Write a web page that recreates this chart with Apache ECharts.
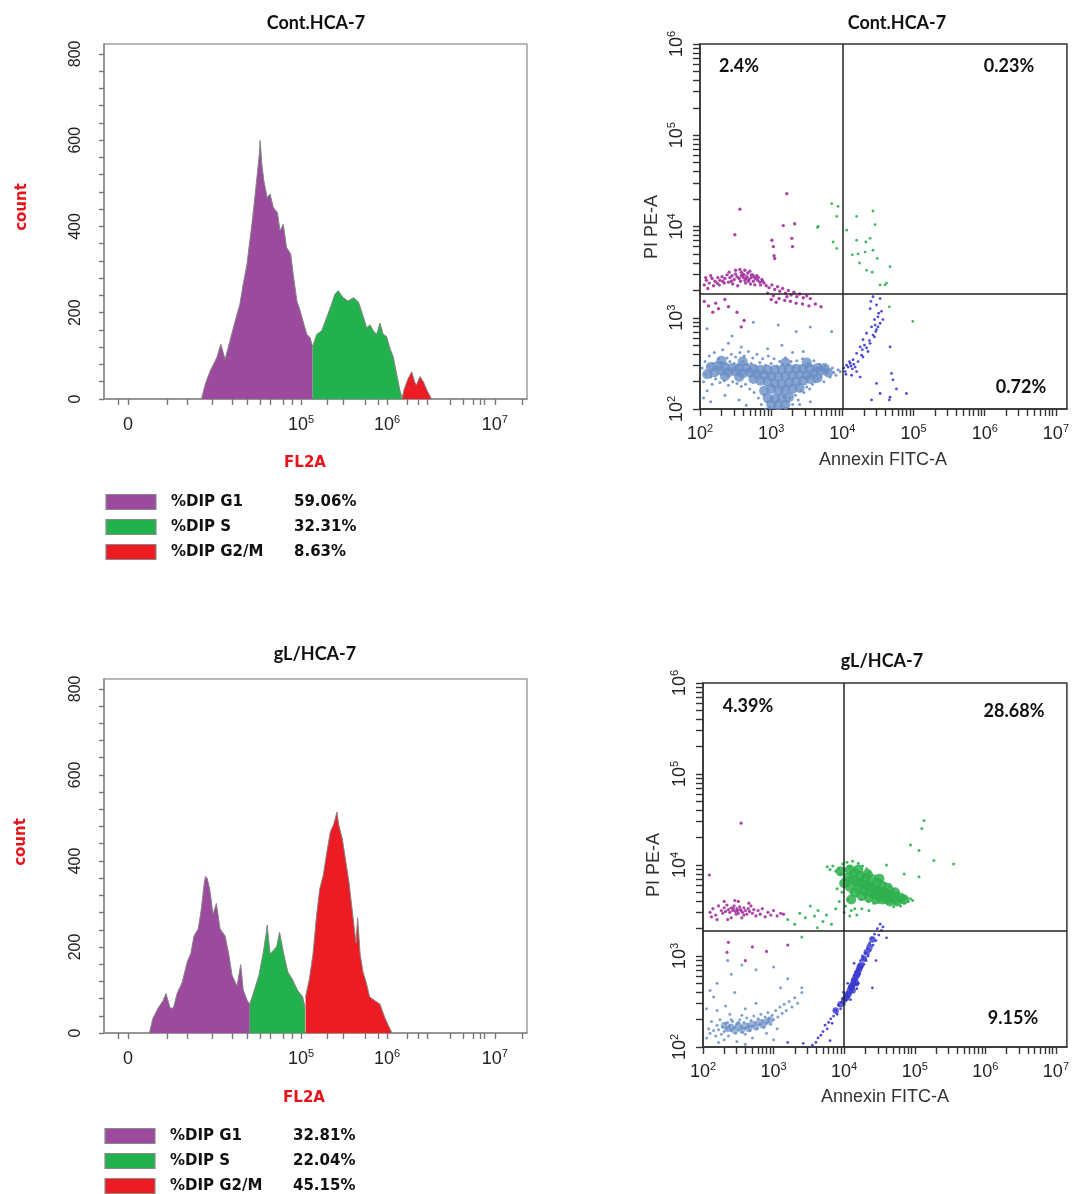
<!DOCTYPE html>
<html><head><meta charset="utf-8">
<script src="https://cdn.jsdelivr.net/npm/echarts@6/dist/echarts.min.js"></script>
<style>html,body{margin:0;padding:0;background:#fff}#chart{width:1072px;height:1194px}</style>
</head><body><div id="chart"></div>
<script>
// ---------------- DATA ----------------
const panelTitles = ['Cont.HCA-7', 'gL/HCA-7'];
const phaseNames = ['%DIP G1', '%DIP S', '%DIP G2/M'];
const contPhasePct = ['59.06%', '32.31%', '8.63%'];
const glPhasePct = ['32.81%', '22.04%', '45.15%'];

// histogram x axis (instrument channels 0..1024) and tick labels
const histTickChannels = [58, 477, 685, 946];
const histTickLabels = ['0', '10^5', '10^6', '10^7'];
const histMinorChannels = [34, 152, 201, 261, 310, 346, 378, 402, 433, 455, 540, 579, 632, 663, 734, 760, 782, 838, 869, 893, 910, 920, 1012];
const countTicks = [0, 200, 400, 600, 800];
const countMinor = [40, 80, 120, 160, 240, 280, 320, 360, 440, 480, 520, 560, 640, 680, 720, 760];

// Cont.HCA-7 DNA histogram [channel, count]
const contG1 = [[236,0],[245,34],[257,65],[273,96],[283,127],[293,92],[305,135],[317,179],[329,220],[337,266],[346,312],[353,367],[360,421],[366,475],[371,521],[376,568],[378,599],[382,545],[387,506],[395,467],[402,475],[410,444],[420,432],[426,390],[434,405],[442,351],[452,336],[458,289],[467,227],[475,204],[484,173],[491,150],[499,142],[505,121]];
const contS = [[505,121],[507,127],[515,150],[527,158],[539,189],[551,220],[559,243],[567,251],[579,235],[591,227],[604,235],[616,225],[626,196],[636,165],[644,172],[652,158],[660,150],[668,176],[676,150],[684,145],[692,118],[700,98],[708,60],[716,21],[721,5]];
const contG2M = [[722,3],[726,20],[735,45],[745,63],[752,40],[756,32],[765,52],[773,40],[782,20],[793,0]];

// gL/HCA-7 DNA histogram [channel, count]
const glG1 = [[110,0],[118,33],[131,58],[143,75],[150,92],[160,58],[168,58],[177,92],[189,117],[202,167],[210,184],[218,226],[228,242],[235,284],[243,351],[246,364],[250,359],[256,334],[264,276],[272,301],[281,242],[293,226],[302,184],[310,134],[322,109],[331,159],[337,100],[347,75],[353,67]];
const glS = [[353,67],[364,100],[375,134],[385,184],[393,234],[395,251],[402,184],[410,192],[418,201],[425,234],[435,184],[445,142],[456,125],[468,100],[481,84],[487,58]];
const glG2M = [[488,84],[497,125],[506,184],[514,268],[522,334],[531,368],[539,418],[548,468],[556,485],[564,514],[568,485],[577,451],[585,401],[593,351],[602,276],[610,209],[614,268],[620,184],[627,142],[635,117],[643,84],[656,75],[668,67],[681,33],[697,0]];

// Annexin/PI decade ticks (log10 units)
const decadeExps = [2, 3, 4, 5, 6, 7];
const decadeLabels = ['10^2', '10^3', '10^4', '10^5', '10^6', '10^7'];

// Cont.HCA-7 scatter [log10 Annexin, log10 PI]
const contViableCore = [[2.20,2.40],[2.30,2.42],[2.40,2.40],[2.50,2.41],[2.60,2.39],[2.70,2.40],[2.80,2.38],[2.90,2.37],[3.00,2.36],[3.10,2.35],[3.20,2.36],[3.30,2.37],[3.40,2.38],[3.50,2.37],[3.60,2.39],[2.95,2.30],[3.05,2.28],[3.15,2.27],[3.25,2.29],[3.35,2.30],[3.45,2.31],[3.55,2.33],[3.10,2.20],[3.20,2.21],[3.30,2.22],[3.00,2.22],[2.35,2.36],[2.55,2.35],[2.75,2.33],[3.70,2.42],[3.15,2.43],[3.35,2.44],[2.65,2.45],[2.45,2.45],[2.15,2.46],[2.25,2.47],[2.35,2.46],[2.55,2.45],[2.75,2.44],[2.85,2.43],[2.95,2.43],[3.05,2.43],[3.25,2.44],[3.45,2.44],[3.55,2.44],[3.65,2.45],[3.75,2.45],[3.80,2.40],[2.10,2.38],[2.85,2.31],[3.65,2.34],[2.90,2.20],[3.40,2.23],[2.95,2.12],[3.05,2.11],[3.15,2.12],[3.25,2.13],[3.00,2.05],[3.10,2.04],[3.20,2.05],[2.30,2.53],[2.60,2.52],[3.20,2.51],[3.50,2.51]];
const contViable = [[2.03,2.45],[2.05,2.30],[2.07,2.52],[2.08,2.38],[2.10,2.20],[2.12,2.47],[2.13,2.58],[2.15,2.35],[2.17,2.27],[2.18,2.50],[2.20,2.62],[2.22,2.33],[2.24,2.46],[2.26,2.55],[2.28,2.29],[2.30,2.51],[2.32,2.65],[2.34,2.31],[2.36,2.49],[2.38,2.56],[2.40,2.26],[2.42,2.52],[2.44,2.60],[2.46,2.30],[2.48,2.50],[2.50,2.57],[2.52,2.28],[2.54,2.48],[2.56,2.62],[2.58,2.25],[2.60,2.52],[2.62,2.58],[2.64,2.27],[2.66,2.49],[2.68,2.63],[2.70,2.22],[2.72,2.50],[2.74,2.56],[2.76,2.18],[2.78,2.47],[2.80,2.60],[2.82,2.12],[2.84,2.51],[2.86,2.05],[2.88,2.55],[2.90,2.15],[2.92,2.48],[2.94,2.08],[2.96,2.58],[2.98,2.02],[3.00,2.50],[3.02,2.12],[3.04,2.55],[3.06,2.06],[3.08,2.47],[3.10,2.10],[3.12,2.52],[3.14,2.03],[3.16,2.49],[3.18,2.14],[3.20,2.56],[3.22,2.08],[3.24,2.48],[3.26,2.12],[3.28,2.52],[3.30,2.05],[3.32,2.46],[3.34,2.15],[3.36,2.53],[3.38,2.10],[3.40,2.47],[3.42,2.20],[3.44,2.55],[3.46,2.18],[3.48,2.45],[3.50,2.24],[3.52,2.50],[3.54,2.22],[3.56,2.47],[3.58,2.27],[3.60,2.53],[3.62,2.30],[3.64,2.45],[3.66,2.33],[3.68,2.49],[3.70,2.36],[3.72,2.44],[3.74,2.30],[3.76,2.47],[3.78,2.39],[3.80,2.42],[3.83,2.35],[3.86,2.45],[3.88,2.40],[3.91,2.37],[3.94,2.43],[3.97,2.41],[2.58,2.68],[2.95,2.66],[3.15,2.70],[3.30,2.62],[2.40,2.72],[3.45,2.63],[3.05,2.02],[2.92,2.00],[3.20,2.01],[2.05,2.12],[2.15,2.08],[2.35,2.15],[2.55,2.10],[2.65,2.04],[3.40,2.05],[3.55,2.08],[2.75,2.95],[3.10,2.92],[3.35,2.85],[3.55,2.90],[3.85,2.85],[2.10,2.88],[2.45,2.80]];
const contEarlyApop = [[4.43,3.23],[4.53,3.21],[4.48,3.14],[4.39,3.10],[4.55,3.07],[4.50,3.01],[4.45,2.98],[4.53,2.94],[4.41,2.90],[4.48,2.87],[4.34,2.83],[4.43,2.81],[4.29,2.76],[4.39,2.72],[4.25,2.68],[4.34,2.67],[4.20,2.61],[4.27,2.59],[4.15,2.54],[4.22,2.52],[4.11,2.50],[4.06,2.48],[4.18,2.46],[4.08,2.46],[4.14,2.44],[4.04,2.41],[4.20,2.41],[4.13,2.37],[4.25,2.35],[4.29,2.57],[4.36,2.63],[4.45,2.79],[4.50,2.90],[4.57,2.98],[4.67,2.68],[4.69,2.39],[4.71,2.32],[4.48,2.28],[4.53,2.17],[4.67,2.13],[4.76,2.22],[4.90,2.17],[4.41,2.10],[4.66,2.10],[4.02,2.45],[4.05,2.38],[4.10,2.52],[4.31,2.70],[4.38,2.75],[4.46,2.92],[4.51,3.05],[4.40,3.18],[4.47,2.85],[4.28,2.65],[4.16,2.49],[4.12,2.47]];
const contLateApop = [[3.66,4.00],[3.85,4.25],[3.94,4.22],[3.92,4.11],[3.87,3.83],[3.92,3.76],[3.65,3.99],[4.06,3.96],[4.20,4.11],[4.43,4.17],[4.46,4.02],[4.20,3.85],[4.33,3.83],[4.39,3.87],[4.14,3.69],[4.22,3.70],[4.32,3.72],[4.43,3.74],[4.49,3.65],[4.24,3.60],[4.34,3.52],[4.42,3.50],[4.67,3.56],[4.60,3.36],[4.53,3.36],[4.62,3.38],[4.66,3.12],[4.99,2.96]];
const contNecrotic = [[2.52,3.45],[2.55,3.43],[2.58,3.46],[2.61,3.44],[2.63,3.41],[2.66,3.45],[2.69,3.42],[2.72,3.44],[2.75,3.40],[2.78,3.43],[2.81,3.41],[2.84,3.39],[2.87,3.42],[2.60,3.48],[2.67,3.49],[2.74,3.47],[2.80,3.46],[2.57,3.40],[2.64,3.38],[2.71,3.37],[2.77,3.36],[2.85,3.36],[2.90,3.38],[2.48,3.42],[2.45,3.46],[2.42,3.44],[2.38,3.47],[2.35,3.43],[2.31,3.45],[2.28,3.41],[2.25,3.44],[2.21,3.40],[2.17,3.43],[2.13,3.38],[2.09,3.41],[2.06,3.36],[2.11,3.32],[2.19,3.35],[2.27,3.36],[2.34,3.38],[2.41,3.50],[2.50,3.52],[2.56,3.53],[2.63,3.52],[2.70,3.51],[2.46,3.37],[2.53,3.35],[2.93,3.35],[2.97,3.33],[3.01,3.36],[3.05,3.31],[3.09,3.34],[3.12,3.29],[3.16,3.32],[3.20,3.27],[3.24,3.30],[3.28,3.25],[3.32,3.28],[3.36,3.23],[3.40,3.26],[3.45,3.22],[3.50,3.24],[3.55,3.21],[3.03,3.24],[3.11,3.21],[3.19,3.19],[3.27,3.18],[3.35,3.16],[3.44,3.15],[3.53,3.13],[3.62,3.15],[3.70,3.12],[2.95,3.27],[3.07,3.17],[3.22,3.23],[3.00,3.20],[2.06,3.18],[2.12,3.13],[2.22,3.16],[2.26,3.10],[2.40,3.12],[2.52,3.06],[2.35,3.20],[2.18,3.06],[2.62,2.97],[2.58,2.90],[2.49,3.91],[2.56,4.19],[3.17,4.01],[3.22,4.36],[3.33,4.03],[3.01,3.85],[3.03,3.78],[3.05,3.65],[3.29,3.87],[3.30,3.78],[3.04,3.68],[2.44,3.40],[2.50,3.48],[2.62,3.47],[2.68,3.40],[2.76,3.45],[2.82,3.44],[2.88,3.40],[2.58,3.50],[2.65,3.43],[2.72,3.47],[2.40,3.39],[2.32,3.40],[2.24,3.38],[2.15,3.46],[2.08,3.44]];
const contGate = [4.0, 3.26];
const contQuadPct = ['2.4%', '0.23%', '0.72%'];

// gL/HCA-7 scatter [log10 Annexin, log10 PI]
const glViable = [[2.05,2.10],[2.08,2.20],[2.10,2.15],[2.12,2.28],[2.15,2.18],[2.18,2.12],[2.20,2.24],[2.22,2.19],[2.24,2.30],[2.26,2.14],[2.28,2.22],[2.30,2.17],[2.32,2.26],[2.34,2.20],[2.36,2.12],[2.38,2.24],[2.40,2.18],[2.42,2.28],[2.44,2.21],[2.46,2.15],[2.48,2.25],[2.50,2.19],[2.52,2.30],[2.54,2.23],[2.56,2.16],[2.58,2.27],[2.60,2.21],[2.62,2.32],[2.64,2.25],[2.66,2.18],[2.68,2.29],[2.70,2.23],[2.72,2.34],[2.74,2.27],[2.76,2.20],[2.78,2.31],[2.80,2.25],[2.82,2.36],[2.84,2.29],[2.86,2.22],[2.88,2.33],[2.90,2.27],[2.92,2.38],[2.94,2.31],[2.96,2.25],[2.98,2.35],[3.00,2.30],[3.03,2.40],[3.06,2.33],[3.09,2.44],[3.12,2.37],[3.15,2.47],[3.18,2.40],[3.22,2.50],[3.26,2.44],[3.30,2.54],[3.34,2.48],[2.40,2.30],[2.50,2.27],[2.60,2.14],[2.45,2.22],[2.55,2.20],[2.35,2.27],[2.65,2.22],[2.30,2.08],[2.48,2.06],[2.70,2.10],[2.90,2.15],[3.05,2.20],[2.20,2.40],[2.32,2.45],[2.60,2.42],[2.15,2.55],[2.45,2.60],[2.75,2.48],[3.10,2.65],[3.40,2.60],[2.55,2.35],[2.38,2.36],[2.05,2.42],[2.10,2.62],[2.22,2.05],[2.60,2.03],[3.00,2.08],[2.35,2.95],[2.55,2.90],[2.75,2.85],[3.00,2.88],[3.20,2.75],[3.40,2.65],[2.20,2.70],[2.40,2.80]];
const glViableCore = [[2.40,2.22],[2.50,2.24],[2.60,2.23],[2.70,2.25],[2.80,2.27],[2.45,2.18],[2.55,2.19],[2.65,2.20],[2.35,2.20],[2.75,2.22],[2.90,2.28],[2.30,2.24],[2.85,2.24],[2.95,2.30]];
const glEarlyApop = [[3.70,2.17],[3.73,2.24],[3.76,2.20],[3.78,2.27],[3.81,2.31],[3.83,2.26],[3.85,2.34],[3.88,2.40],[3.90,2.36],[3.92,2.46],[3.95,2.42],[3.96,2.49],[3.98,2.53],[4.00,2.47],[4.01,2.57],[4.03,2.52],[4.04,2.60],[4.06,2.55],[4.07,2.66],[4.09,2.59],[4.10,2.68],[4.11,2.62],[4.12,2.74],[4.13,2.66],[4.14,2.79],[4.15,2.71],[4.16,2.82],[4.17,2.74],[4.18,2.69],[4.19,2.85],[4.20,2.78],[4.21,2.90],[4.22,2.80],[4.23,2.95],[4.24,2.86],[4.25,2.88],[4.27,2.97],[4.28,2.91],[4.30,3.03],[4.31,2.95],[4.33,3.08],[4.34,3.00],[4.36,3.14],[4.37,3.06],[4.39,3.20],[4.41,3.12],[4.43,3.24],[4.45,3.17],[4.47,3.30],[4.49,3.23],[4.51,3.35],[4.53,3.28],[4.55,3.32],[4.14,2.92],[4.05,2.70],[4.26,3.00],[3.99,2.60],[4.20,2.70],[4.09,2.52],[4.18,2.64],[3.63,2.10],[3.60,2.05],[3.67,2.13],[3.55,2.02],[3.42,2.04],[3.20,2.05],[3.80,2.07],[4.40,2.65],[4.45,2.95],[4.60,3.20]];
const glEarlyCore = [[3.88,2.40],[3.95,2.47],[4.00,2.52],[4.04,2.56],[4.06,2.58],[4.08,2.62],[4.10,2.65],[4.11,2.67],[4.13,2.70],[4.14,2.73],[4.16,2.76],[4.18,2.79],[4.19,2.82],[4.21,2.85],[4.22,2.88],[4.24,2.90],[4.28,2.97],[4.32,3.04],[4.36,3.10],[4.40,3.18],[4.12,2.62],[4.17,2.70],[4.03,2.54]];
const glLateCore = [[4.05,3.86],[4.12,3.84],[4.18,3.82],[4.24,3.80],[4.30,3.78],[4.36,3.76],[4.42,3.74],[4.48,3.72],[4.54,3.70],[4.60,3.69],[4.66,3.67],[4.72,3.65],[4.20,3.74],[4.28,3.72],[4.36,3.70],[4.44,3.68],[4.52,3.66],[4.60,3.63],[4.14,3.91],[4.22,3.88],[4.30,3.86],[4.38,3.83],[4.46,3.80],[4.54,3.77],[3.95,3.93],[4.00,3.80],[4.08,3.76],[4.15,3.70],[4.25,3.66],[4.35,3.64],[4.45,3.62],[4.55,3.62],[4.65,3.60],[4.75,3.60],[4.80,3.64],[4.85,3.62],[4.08,3.95],[4.20,3.95],[4.33,3.90],[4.50,3.85],[4.62,3.75],[4.72,3.70],[4.10,3.62]];
const glLateApop = [[3.76,3.98],[3.80,3.95],[3.84,3.99],[3.88,3.93],[3.92,3.96],[3.95,3.90],[3.98,4.01],[4.00,3.95],[4.02,3.85],[4.04,4.03],[4.06,3.78],[4.08,3.98],[4.10,3.70],[4.12,4.04],[4.14,3.79],[4.16,3.96],[4.18,3.66],[4.20,4.02],[4.22,3.92],[4.24,3.62],[4.26,3.99],[4.28,3.90],[4.30,3.66],[4.32,3.96],[4.34,3.60],[4.36,3.92],[4.38,3.65],[4.40,3.89],[4.42,3.58],[4.44,3.88],[4.46,3.62],[4.48,3.85],[4.50,3.59],[4.52,3.83],[4.55,3.63],[4.58,3.80],[4.61,3.58],[4.64,3.76],[4.67,3.60],[4.70,3.73],[4.73,3.58],[4.76,3.70],[4.79,3.60],[4.82,3.66],[4.85,3.58],[4.88,3.64],[4.91,3.60],[4.94,3.63],[4.97,3.61],[4.80,3.55],[4.70,3.54],[4.05,3.62],[4.02,3.55],[4.10,3.50],[4.08,3.44],[4.15,3.52],[4.00,3.48],[3.97,3.70],[3.90,3.74],[3.93,3.60],[4.25,3.52],[4.35,3.50],[4.18,3.45],[3.37,3.47],[3.45,3.42],[3.52,3.55],[3.58,3.44],[3.63,3.50],[3.70,3.38],[3.75,3.45],[3.82,3.35],[3.88,3.52],[3.40,3.21],[3.62,3.31],[4.94,4.22],[5.06,4.16],[5.13,4.49],[5.10,4.40],[5.55,4.01],[5.27,4.05],[5.06,3.87],[4.85,3.90],[4.60,4.00],[3.30,3.35],[3.20,3.40]];
const glNecrotic = [[2.10,3.48],[2.14,3.52],[2.18,3.45],[2.22,3.55],[2.26,3.50],[2.28,3.47],[2.30,3.53],[2.32,3.49],[2.34,3.56],[2.36,3.51],[2.38,3.48],[2.40,3.53],[2.42,3.50],[2.44,3.55],[2.46,3.49],[2.48,3.52],[2.50,3.47],[2.52,3.54],[2.54,3.50],[2.56,3.48],[2.58,3.53],[2.60,3.50],[2.62,3.46],[2.64,3.52],[2.66,3.49],[2.68,3.55],[2.70,3.47],[2.72,3.51],[2.75,3.44],[2.78,3.50],[2.81,3.46],[2.84,3.52],[2.88,3.43],[2.92,3.48],[2.96,3.45],[3.00,3.50],[3.05,3.44],[3.10,3.47],[3.14,3.46],[2.45,3.61],[2.50,3.60],[2.40,3.42],[2.55,3.42],[2.65,3.58],[2.20,3.40],[2.35,3.40],[2.12,3.43],[2.30,3.60],[2.58,3.45],[2.47,3.46],[2.53,3.51],[2.43,3.52],[2.49,3.50],[2.09,3.89],[2.54,4.46],[2.36,3.15],[2.34,3.04],[2.60,2.95],[2.70,3.10],[2.90,3.05],[3.20,3.12]];
const glGate = [4.0, 3.28];
const glQuadPct = ['4.39%', '28.68%', '9.15%'];

// ---------------- STYLE / LAYOUT ----------------
const AX_FONT = '"Liberation Sans", Arial, sans-serif';
const BOLD_FONT = 'Lato, "Open Sans", sans-serif';
const LEG_FONT = '"DejaVu Sans", Verdana, sans-serif';
const C_G1 = '#9b4a9e', C_S = '#22b14c', C_G2 = '#ed1c24';
const C_VIABLE = '#6a8fc6', C_EARLY = '#3a3ad0', C_LATE = '#2eb04e', C_NECRO = '#a2309c';
const RED = '#e8141c';

const grids = [
  {left: 104, top: 44, width: 423, height: 355, show: true, borderColor: '#a0a0a0', borderWidth: 1.5},
  {left: 700, top: 44, width: 367, height: 365, show: true, borderColor: '#333', borderWidth: 1.5},
  {left: 104, top: 679, width: 423, height: 354, show: true, borderColor: '#a0a0a0', borderWidth: 1.5},
  {left: 703, top: 683, width: 366, height: 364, show: true, borderColor: '#333', borderWidth: 1.5}
];

function fmtFrom(labels, ticks) {
  return function (v) {
    const i = ticks.findIndex(t => Math.abs(t - v) < 1e-6);
    if (i < 0) return '';
    const m = labels[i].match(/^([^\^]+)(?:\^(\d+))?$/);
    return '{b|' + m[1] + '}' + (m[2] ? '{s|' + m[2] + '}' : '');
  };
}
function rich(size, color) {
  return {
    b: {fontSize: size, fontFamily: AX_FONT, color: color, lineHeight: size + 4},
    s: {fontSize: Math.round(size * 0.62), fontFamily: AX_FONT, color: color, verticalAlign: 'top', lineHeight: Math.round(size * 0.62) + 1}
  };
}
function logMinor(lo, hi, max) {
  const out = [];
  for (let n = lo; n < hi; n++) for (let k = 2; k <= 9; k++) { const v = n + Math.log10(k); if (v <= max) out.push(v); }
  return out;
}
const byValue = (a, b) => a - b;

const xAxes = [], yAxes = [];
function addAxes(gi, kind) {
  const hist = kind === 'hist';
  const lineCol = hist ? '#8c8c8c' : '#333';
  const tickCol = hist ? '#777' : '#333';
  const xMin = hist ? 0 : 2, xMax = hist ? 1024 : 7.155;
  const yMin = hist ? 0 : 2, yMax = hist ? 823 : 6;
  const xMajor = hist ? histTickChannels : decadeExps;
  const xLab = hist ? histTickLabels : decadeLabels;
  const yMajor = hist ? countTicks : decadeExps.slice(0, 5);
  const yLab = hist ? countTicks.map(String) : decadeLabels.slice(0, 5);
  const xMinor = hist ? histMinorChannels : logMinor(2, 7, xMax);
  const yMinor = hist ? countMinor : logMinor(2, 6, 6);
  const xi = xAxes.length, yi = yAxes.length;
  xAxes.push({
    gridIndex: gi, type: 'value', position: 'bottom', min: xMin, max: xMax,
    axisLine: {show: true, onZero: false, lineStyle: {color: lineCol, width: 1.5}},
    axisTick: {show: true, customValues: xMajor.concat(xMinor).sort(byValue), length: hist ? 6 : 7, lineStyle: {color: tickCol, width: 1.4}},
    axisLabel: {show: true, customValues: xMajor, formatter: fmtFrom(xLab, xMajor), margin: hist ? 15 : 14, rich: rich(18, '#222')},
    splitLine: {show: false}
  });
  yAxes.push({
    gridIndex: gi, type: 'value', position: 'left', min: yMin, max: yMax,
    axisLine: {show: true, onZero: false, lineStyle: {color: lineCol, width: 1.5}},
    axisTick: {show: true, customValues: yMajor.concat(yMinor).sort(byValue), length: hist ? 5 : 7, lineStyle: {color: tickCol, width: 1.4}},
    axisLabel: {show: true, customValues: yMajor, rotate: 90, formatter: fmtFrom(yLab, yMajor), margin: hist ? 18 : 12,
      rich: rich(hist ? 16 : 18, '#222')},
    splitLine: {show: false}
  });
  return {xi: xi, yi: yi};
}
const axH1 = addAxes(0, 'hist');
const axS1 = addAxes(1, 'scatter');
const axH2 = addAxes(2, 'hist');
const axS2 = addAxes(3, 'scatter');

const series = [];
function histSeries(ax, name, data, color) {
  series.push({
    type: 'line', name: name, xAxisIndex: ax.xi, yAxisIndex: ax.yi, data: data,
    showSymbol: false, symbol: 'none', smooth: false,
    itemStyle: {color: color},
    lineStyle: {color: '#858585', width: 1},
    areaStyle: {color: color, opacity: 1}
  });
}
histSeries(axH1, phaseNames[0], contG1, C_G1);
histSeries(axH1, phaseNames[1], contS, C_S);
histSeries(axH1, phaseNames[2], contG2M, C_G2);
histSeries(axH2, phaseNames[0], glG1, C_G1);
histSeries(axH2, phaseNames[1], glS, C_S);
histSeries(axH2, phaseNames[2], glG2M, C_G2);

function dots(ax, name, data, color, size, opacity) {
  series.push({
    type: 'scatter', name: name, xAxisIndex: ax.xi, yAxisIndex: ax.yi, data: data,
    symbol: 'circle', symbolSize: size, itemStyle: {color: color, opacity: opacity}, z: 2
  });
}
function gate(ax, g) {
  series.push({
    type: 'scatter', name: 'gate', xAxisIndex: ax.xi, yAxisIndex: ax.yi, data: [], z: 5,
    markLine: {silent: true, symbol: ['none', 'none'], label: {show: false}, animation: false,
      lineStyle: {color: '#222', width: 1.5, type: 'solid'},
      data: [{xAxis: g[0]}, {yAxis: g[1]}]}
  });
}
dots(axS1, 'viable core', contViableCore, C_VIABLE, 10, 0.8);
dots(axS1, 'viable', contViable, C_VIABLE, 3, 0.9);
dots(axS1, 'necrotic', contNecrotic, C_NECRO, 3.4, 0.9);
dots(axS1, 'early', contEarlyApop, C_EARLY, 2.8, 0.9);
dots(axS1, 'late', contLateApop, C_LATE, 2.8, 0.9);
gate(axS1, contGate);
dots(axS2, 'viable core', glViableCore, C_VIABLE, 7, 0.65);
dots(axS2, 'viable', glViable, C_VIABLE, 3, 0.85);
dots(axS2, 'necrotic', glNecrotic, C_NECRO, 3.2, 0.9);
dots(axS2, 'early core', glEarlyCore, C_EARLY, 6.5, 0.8);
dots(axS2, 'early', glEarlyApop, C_EARLY, 2.8, 0.9);
dots(axS2, 'late core', glLateCore, C_LATE, 10, 0.85);
dots(axS2, 'late', glLateApop, C_LATE, 3, 0.9);
gate(axS2, glGate);

// ---------------- TEXT / LEGENDS ----------------
const graphic = [];
function txt(text, x, y, font, fill, rot) {
  graphic.push({type: 'text', x: x, y: y, rotation: rot || 0,
    style: {text: text, font: font, fill: fill, align: 'center', verticalAlign: 'middle'}});
}
txt(panelTitles[0], 316, 23, 'bold 18px ' + BOLD_FONT, '#111');
txt(panelTitles[0], 897, 23, 'bold 18px ' + BOLD_FONT, '#111');
txt(panelTitles[1], 315, 654, 'bold 18px ' + BOLD_FONT, '#111');
txt(panelTitles[1], 882, 661, 'bold 18px ' + BOLD_FONT, '#111');
txt('count', 22, 207, 'bold 15px ' + LEG_FONT, RED, Math.PI / 2);
txt('count', 21, 842, 'bold 15px ' + LEG_FONT, RED, Math.PI / 2);
txt('FL2A', 305, 463, 'bold 15px ' + LEG_FONT, RED);
txt('FL2A', 304, 1098, 'bold 15px ' + LEG_FONT, RED);
txt('PI PE-A', 652, 227, '18px ' + AX_FONT, '#333', Math.PI / 2);
txt('PI PE-A', 654, 865, '18px ' + AX_FONT, '#333', Math.PI / 2);
txt('Annexin FITC-A', 883, 460, '18px ' + AX_FONT, '#333');
txt('Annexin FITC-A', 885, 1097, '18px ' + AX_FONT, '#333');
const qFont = 'bold 18px ' + BOLD_FONT;
txt(contQuadPct[0], 739, 66, qFont, '#111');
txt(contQuadPct[1], 1009, 66, qFont, '#111');
txt(contQuadPct[2], 1021, 387, qFont, '#111');
txt(glQuadPct[0], 748, 706, qFont, '#111');
txt(glQuadPct[1], 1014, 711, qFont, '#111');
txt(glQuadPct[2], 1013, 1018, qFont, '#111');

function legendBlock(x0, yCenters, pcts) {
  const cols = [C_G1, C_S, C_G2];
  for (let i = 0; i < 3; i++) {
    const yc = yCenters[i];
    graphic.push({type: 'rect', shape: {x: x0, y: yc - 7.5, width: 50, height: 15},
      style: {fill: cols[i], stroke: '#8a8a8a', lineWidth: 1.2}});
    graphic.push({type: 'text', x: x0 + 65, y: yc,
      style: {text: phaseNames[i], font: 'bold 15px ' + LEG_FONT, fill: '#111', align: 'left', verticalAlign: 'middle'}});
    graphic.push({type: 'text', x: x0 + 188, y: yc,
      style: {text: pcts[i], font: 'bold 15px ' + LEG_FONT, fill: '#111', align: 'left', verticalAlign: 'middle'}});
  }
}
legendBlock(106, [502, 527, 552], contPhasePct);
legendBlock(105, [1136, 1161, 1186], glPhasePct);

const chart = echarts.init(document.getElementById('chart'), null, {renderer: 'canvas'});
chart.setOption({
  backgroundColor: '#ffffff',
  animation: false,
  grid: grids,
  xAxis: xAxes,
  yAxis: yAxes,
  series: series,
  graphic: graphic
});
</script></body></html>
